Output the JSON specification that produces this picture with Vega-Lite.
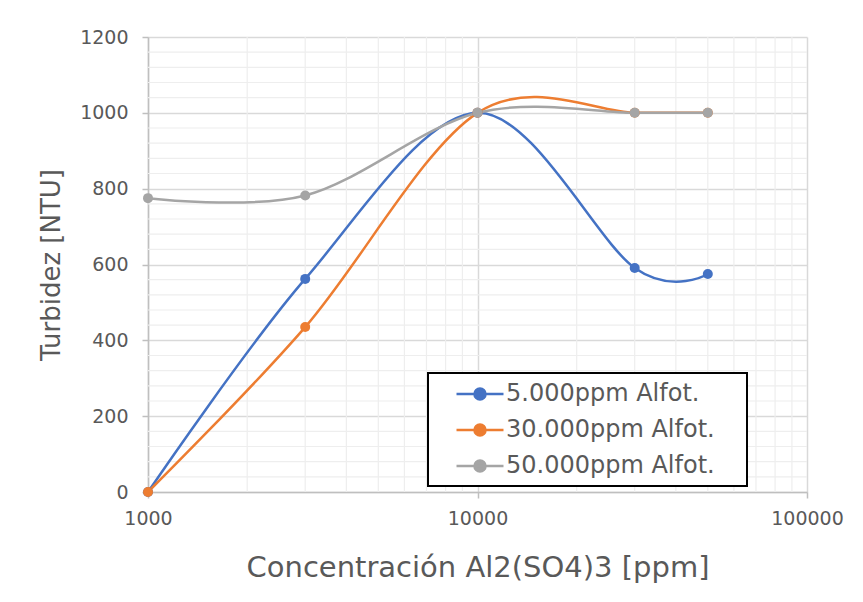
{
  "$schema": "https://vega.github.io/schema/vega-lite/v6.json",
  "width": 659,
  "height": 455,
  "autosize": {"type": "none"},
  "padding": {"left": 148, "top": 37, "right": 56, "bottom": 110},
  "background": "white",
  "config": {
    "view": {"stroke": null},
    "font": "DejaVu Sans",
    "axis": {
      "labelFont": "DejaVu Sans",
      "titleFont": "DejaVu Sans",
      "labelColor": "#595959",
      "titleColor": "#595959",
      "labelFontSize": 19,
      "titleFontWeight": "normal",
      "gridColor": "#D9D9D9",
      "gridWidth": 1.5,
      "domainColor": "#BFBFBF",
      "domainWidth": 1.5,
      "tickColor": "#BFBFBF",
      "tickWidth": 1.5,
      "tickSize": 6,
      "labelOverlap": false,
      "labelFlush": false
    }
  },
  "datasets": {
    "series": [
      {"conc": 1000, "turb": 0, "serie": "5.000ppm Alfot."},
      {"conc": 3000, "turb": 562, "serie": "5.000ppm Alfot."},
      {"conc": 10000, "turb": 1000, "serie": "5.000ppm Alfot."},
      {"conc": 30000, "turb": 591, "serie": "5.000ppm Alfot."},
      {"conc": 50000, "turb": 575, "serie": "5.000ppm Alfot."},
      {"conc": 1000, "turb": 0, "serie": "30.000ppm Alfot."},
      {"conc": 3000, "turb": 435, "serie": "30.000ppm Alfot."},
      {"conc": 10000, "turb": 1000, "serie": "30.000ppm Alfot."},
      {"conc": 30000, "turb": 1000, "serie": "30.000ppm Alfot."},
      {"conc": 50000, "turb": 1000, "serie": "30.000ppm Alfot."},
      {"conc": 1000, "turb": 775, "serie": "50.000ppm Alfot."},
      {"conc": 3000, "turb": 782, "serie": "50.000ppm Alfot."},
      {"conc": 10000, "turb": 1000, "serie": "50.000ppm Alfot."},
      {"conc": 30000, "turb": 1000, "serie": "50.000ppm Alfot."},
      {"conc": 50000, "turb": 1000, "serie": "50.000ppm Alfot."}
    ],
    "gridx": [
      {"conc": 2000}, {"conc": 3000}, {"conc": 4000}, {"conc": 5000}, {"conc": 6000}, {"conc": 7000}, {"conc": 8000}, {"conc": 9000},
      {"conc": 20000}, {"conc": 30000}, {"conc": 40000}, {"conc": 50000}, {"conc": 60000}, {"conc": 70000}, {"conc": 80000}, {"conc": 90000}
    ],
    "gridy": [
      {"turb": 40}, {"turb": 80}, {"turb": 120}, {"turb": 160},
      {"turb": 240}, {"turb": 280}, {"turb": 320}, {"turb": 360},
      {"turb": 440}, {"turb": 480}, {"turb": 520}, {"turb": 560},
      {"turb": 640}, {"turb": 680}, {"turb": 720}, {"turb": 760},
      {"turb": 840}, {"turb": 880}, {"turb": 920}, {"turb": 960},
      {"turb": 1040}, {"turb": 1080}, {"turb": 1120}, {"turb": 1160}
    ]
  },
  "layer": [
    {
      "data": {"name": "gridx"},
      "mark": {"type": "rule", "color": "#EEEEEE", "strokeWidth": 1.2},
      "encoding": {
        "x": {"field": "conc", "type": "quantitative", "scale": {"type": "log", "domain": [1000, 100000]},
          "axis": {"title": "Concentración Al2(SO4)3 [ppm]", "titleFontSize": 29, "values": [1000, 10000, 100000], "format": "d", "labelPadding": 11, "titlePadding": 25}}
      }
    },
    {
      "data": {"name": "gridy"},
      "mark": {"type": "rule", "color": "#EEEEEE", "strokeWidth": 1.2},
      "encoding": {
        "y": {"field": "turb", "type": "quantitative", "scale": {"domain": [0, 1200]},
          "axis": {"title": "Turbidez [NTU]", "titleFontSize": 26, "values": [0, 200, 400, 600, 800, 1000, 1200], "format": "d", "labelPadding": 14, "titlePadding": 15}}
      }
    },
    {
      "data": {"name": "series"},
      "mark": {"type": "line", "interpolate": "cardinal", "strokeWidth": 2.5},
      "encoding": {
        "x": {"field": "conc", "type": "quantitative", "scale": {"type": "log", "domain": [1000, 100000]},
          "axis": {"title": "Concentración Al2(SO4)3 [ppm]", "titleFontSize": 29, "values": [1000, 10000, 100000], "format": "d", "labelPadding": 11, "titlePadding": 25}},
        "y": {"field": "turb", "type": "quantitative", "scale": {"domain": [0, 1200]},
          "axis": {"title": "Turbidez [NTU]", "titleFontSize": 26, "values": [0, 200, 400, 600, 800, 1000, 1200], "format": "d", "labelPadding": 14, "titlePadding": 15}},
        "color": {
          "field": "serie", "type": "nominal",
          "scale": {"domain": ["5.000ppm Alfot.", "30.000ppm Alfot.", "50.000ppm Alfot."], "range": ["#4472C4", "#ED7D31", "#A5A5A5"]},
          "legend": {
            "title": null,
            "orient": "none",
            "legendX": 280,
            "legendY": 336,
            "strokeColor": "black",
            "fillColor": "white",
            "padding": 8,
            "labelFont": "DejaVu Sans",
            "labelFontSize": 24,
            "labelColor": "#595959",
            "labelLimit": 400,
            "rowPadding": 11,
            "labelExpr": "datum.label + '\u2005\u2800'",
            "symbolType": "M -2 0 L 2 0 M -0.47 0 A 0.47 0.47 0 1 0 0.47 0 A 0.47 0.47 0 1 0 -0.47 0 Z",
            "symbolSize": 552,
            "symbolStrokeWidth": 2.5,
            "symbolOffset": 31,
            "labelOffset": 13,
            "encode": {
              "legend": {"update": {"strokeWidth": {"value": 2}}}
            }
          }
        },
        "order": {"field": "conc", "type": "quantitative"}
      }
    },
    {
      "data": {"name": "series"},
      "mark": {"type": "point", "filled": true, "size": 100, "opacity": 1},
      "encoding": {
        "x": {"field": "conc", "type": "quantitative"},
        "y": {"field": "turb", "type": "quantitative"},
        "color": {"field": "serie", "type": "nominal"}
      }
    }
  ]
}
